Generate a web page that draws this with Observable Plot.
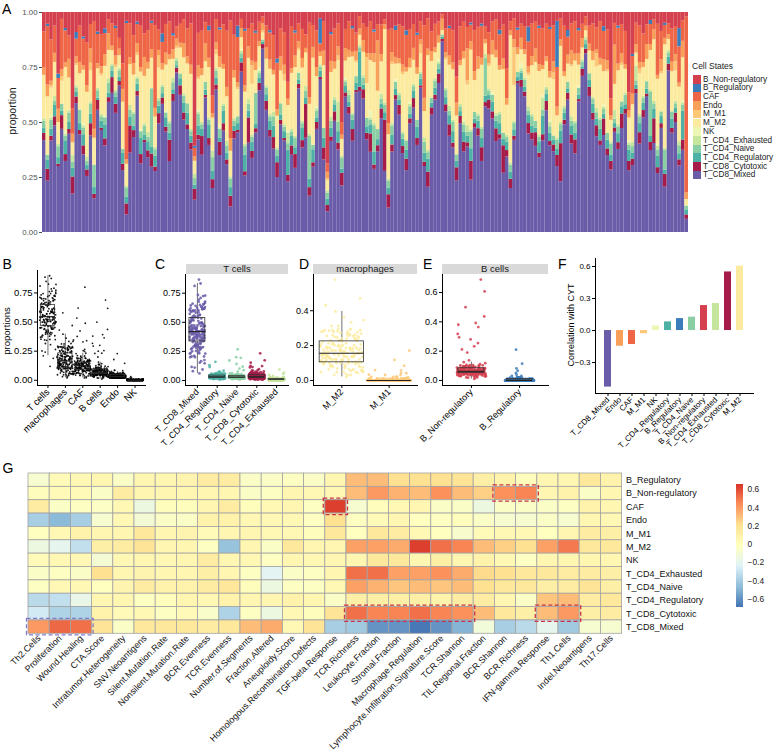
<!DOCTYPE html>
<html><head><meta charset="utf-8">
<script src="https://cdn.jsdelivr.net/npm/d3@7"></script>
<script src="https://cdn.jsdelivr.net/npm/@observablehq/plot@0.6"></script>
<style>
body{margin:0;background:#fff;font-family:Arial,"Liberation Sans",Helvetica,sans-serif;}
#root{position:relative;width:777px;height:755px;overflow:hidden;background:#fff;}
</style></head><body><div id="root"></div>
<script>
// ---------- Panel A: per-sample cell-state amounts (normalized per sample) ----------
const cellStates = ["B_Non-regulatory","B_Regulatory","CAF","Endo","M_M1","M_M2","NK","T_CD4_Exhausted","T_CD4_Naive","T_CD4_Regulatory","T_CD8_Cytotoxic","T_CD8_Mixed"];
const stateColors = ["#D5404F","#3A7DBA","#EE6646","#F8A05A","#FCC878","#FCEB9F","#EEF6B3","#C6E59D","#8ACFA4","#4DB2A5","#A51C4A","#6A5CA8"];

const T_CD8_Mixed = [38,22,40,47,30,45,31,42,18,58,43,35,26,40,15,50,45,37,55,62,
52,68,29,8,35,41,57,30,38,33,30,28,43,60,42,30,56,66,58,47,
44,36,15,40,33,52,38,20,61,35,41,29,12,37,44,70,27,39,32,48,
58,80,55,42,36,26,46,40,24,33,28,64,35,42,17,30,45,73,30,10,
41,47,36,22,64,50,39,61,68,57,43,35,29,40,46,25,11,34,59,48,
33,27,45,52,38,63,30,21,48,56,63,85,51,42,37,24,45,33,40,25,
46,39,31,60,55,48,36,42,28,35,19,44,67,62,58,47,40,38,33,45,
52,41,36,30,24,47,59,39,34,57,66,78,60,49,44,38,41,35,29,46,
37,43,50,27,32,65,39,48,55,41,36,30,44,21,72,42,47,33,40,6];
const T_CD8_Cytotoxic = [3,5,2,4,1,6,3,2,8,3,2,4,3,5,2,4,1,3,2,7,
4,2,3,5,12,3,2,4,1,3,6,2,4,3,2,9,3,2,4,3,
2,3,5,2,8,1,3,4,2,6,3,2,5,3,1,4,2,11,3,2,
3,2,4,3,5,7,2,1,3,4,6,2,3,15,4,2,3,1,5,3,
2,4,3,6,2,3,5,1,2,4,3,8,2,3,4,21,6,3,2,4,
3,5,2,4,3,1,2,7,3,2,4,1,3,5,2,6,3,4,2,9,
2,3,6,2,4,3,5,2,13,3,4,2,1,3,2,5,3,6,2,3,
4,2,3,5,18,2,3,4,6,1,3,2,4,3,5,2,7,3,4,2,
3,6,2,4,3,2,5,3,1,4,10,3,2,6,3,2,4,3,5,2];
const T_CD4_Regulatory = [2,4,3,5,3,2,6,3,4,2,3,5,2,4,3,1,3,6,2,3,
3,2,5,3,4,2,3,7,2,4,3,5,3,2,4,3,2,1,3,4,
5,3,2,4,3,2,6,4,3,2,5,3,4,2,3,2,8,3,4,2,
2,1,3,4,5,3,2,3,12,4,3,2,5,3,4,6,2,3,4,3,
4,3,5,2,3,2,4,3,17,2,3,4,6,3,2,3,3,4,3,2,
3,4,2,3,5,3,4,6,2,3,2,1,3,4,5,3,2,4,3,6,
2,3,4,3,2,4,3,5,3,4,3,3,2,3,2,4,3,2,5,9,
3,4,2,3,6,3,2,4,3,2,1,2,3,4,3,5,2,4,3,2,
4,3,2,5,3,2,4,3,2,3,4,6,3,2,3,4,2,3,14,2];
const T_CD4_Naive = [3,2,4,2,5,3,2,4,3,2,6,3,2,4,10,3,2,3,4,2,
2,3,2,4,3,5,2,3,4,2,27,3,2,3,2,4,3,2,2,3,
4,2,3,5,2,3,2,6,3,4,2,3,4,2,3,2,4,3,2,15,
2,1,3,2,4,3,5,2,3,2,4,3,2,3,20,2,3,2,4,3,
3,2,4,5,2,3,2,3,2,3,4,2,12,5,2,3,3,4,3,2,
2,4,3,2,3,2,5,3,2,3,2,1,3,2,4,3,2,3,2,8,
3,2,4,18,2,3,2,4,3,2,3,3,2,1,3,2,4,3,2,3,
2,3,2,4,3,2,3,2,4,3,2,2,3,2,3,4,2,3,5,2,
3,2,4,2,3,2,3,2,3,22,2,3,2,9,2,3,2,4,3,2];
const T_CD4_Exhausted = [1,0,1,2,1,0,1,1,3,1,0,1,2,1,0,1,1,0,2,1,
1,1,0,1,2,1,1,0,1,2,0,1,1,1,0,1,2,1,0,1,
0,1,2,1,1,0,1,3,1,0,1,2,1,1,0,1,1,2,1,0,
1,0,1,1,2,1,0,1,5,1,1,0,1,2,1,0,1,1,0,1,
2,1,9,1,1,2,1,0,1,1,0,1,1,0,2,1,1,1,0,1,
1,0,1,1,0,1,2,1,0,1,1,0,1,2,1,0,1,1,3,1,
0,1,1,2,1,0,1,1,0,1,1,1,0,1,1,2,1,0,1,6,
1,2,0,1,1,1,0,2,1,0,1,1,0,1,2,1,1,0,1,4,
1,0,1,1,2,7,1,1,0,1,1,2,0,1,1,0,1,2,1,0];
const NK = [0,0,1,0,0,0,1,0,0,0,0,1,0,0,0,0,0,1,0,0,
0,1,0,0,0,0,0,1,0,0,0,0,0,0,1,0,0,0,0,0,
0,0,0,1,0,0,0,0,0,2,0,0,0,0,0,1,0,0,0,0,
1,0,0,0,0,0,0,0,1,0,0,0,0,0,0,0,1,0,0,0,
0,0,0,0,1,0,0,0,0,0,0,3,0,0,0,0,0,0,1,0,
0,0,1,0,0,0,0,0,0,0,1,0,0,0,0,0,0,1,0,0,
0,0,0,0,0,1,0,0,0,0,0,0,0,2,0,0,0,0,0,1,
0,1,0,0,0,0,0,0,0,1,0,0,0,0,0,0,1,0,0,0,
0,0,0,1,0,0,0,0,0,0,0,1,0,0,0,0,0,0,1,0];
const M_M2 = [18,25,12,15,10,10,28,14,6,9,16,24,30,13,12,8,17,21,12,6,
10,5,22,10,18,16,9,25,20,28,14,14,12,7,19,26,8,4,11,15,
17,24,6,13,20,8,22,15,6,26,14,19,12,16,12,5,25,18,22,11,
9,3,12,20,16,15,14,19,12,24,30,10,22,15,14,40,13,4,26,5,
20,12,18,8,8,14,24,6,5,10,16,22,28,19,13,30,20,25,7,12,
24,30,14,10,20,8,12,44,15,11,7,2,12,18,22,18,16,25,19,38,
14,18,27,5,10,16,22,19,30,14,55,17,8,6,10,15,21,26,28,13,
11,20,25,10,36,13,8,22,26,9,5,3,10,16,19,23,14,28,10,12,
24,15,10,10,18,6,18,12,9,20,25,33,16,48,5,17,13,27,21,3];
const M_M1 = [0,0,1,0,0,2,0,0,0,1,0,0,0,3,0,0,1,0,0,0,
1,0,0,0,0,0,1,0,0,0,0,0,5,0,0,0,0,1,0,0,
0,0,0,1,0,0,0,0,2,0,0,0,0,0,1,0,0,0,8,0,
0,1,0,0,0,0,0,3,0,0,0,1,0,0,0,0,0,0,0,1,
0,0,2,0,0,0,0,1,0,0,12,0,0,0,0,0,0,1,0,0,
1,0,0,0,0,4,0,0,0,0,0,0,1,0,0,0,0,0,2,0,
0,0,0,0,1,0,0,0,0,0,0,18,0,0,0,1,0,0,0,0,
0,0,3,0,0,0,0,1,0,0,0,0,0,0,6,0,0,1,0,0,
0,1,0,0,0,0,2,0,0,0,0,0,1,0,0,0,4,0,0,0];
const Endo = [3,5,2,4,6,3,2,8,4,3,5,2,3,6,4,2,3,5,7,2,
4,3,6,2,3,5,4,2,8,3,4,4,2,3,5,2,4,3,2,6,
3,4,2,5,3,7,4,2,3,5,2,4,6,3,2,4,3,5,2,4,
2,3,5,4,2,3,6,4,3,2,5,3,4,2,3,5,4,2,6,3,
5,3,4,2,6,3,2,4,3,5,2,3,4,25,3,2,5,4,3,2,
3,2,4,5,3,2,6,3,4,2,3,5,2,4,3,6,2,3,15,4,
4,5,3,2,4,6,3,2,5,3,2,4,3,5,2,3,4,6,3,2,
2,3,5,4,3,2,4,6,3,5,4,2,3,4,2,3,5,4,2,18,
3,4,2,3,5,4,3,2,6,3,4,2,5,3,2,4,3,2,8,3];
const CAF = [15,25,18,12,14,22,14,10,12,8,16,12,20,10,48,12,14,9,6,10,
12,5,12,62,15,12,8,18,10,14,12,38,8,10,12,14,6,5,8,10,
12,18,4,14,16,8,12,8,10,12,16,24,55,14,20,4,26,8,16,14,
8,3,10,12,15,22,12,14,8,18,10,8,12,6,35,10,16,4,12,4,
12,14,10,6,9,12,10,8,6,7,12,14,10,8,12,2,42,10,12,14,
16,14,12,10,14,8,33,14,8,10,6,2,10,12,14,12,14,12,10,8,
18,12,14,6,10,8,12,14,16,14,4,10,8,6,10,12,14,12,16,18,
14,20,16,18,10,20,8,12,14,10,6,4,8,12,10,16,12,14,8,10,
16,12,14,8,18,10,16,12,8,10,4,26,12,6,5,14,12,18,10,80];
const B_NonRegulatory = [8,5,12,6,28,3,7,10,45,9,6,11,14,5,4,8,10,7,3,5,
6,12,24,4,5,10,4,6,9,8,4,6,7,10,5,4,9,6,5,3,
7,5,62,9,8,4,6,38,3,7,5,8,4,9,6,3,8,7,5,9,
4,2,6,8,10,22,7,9,33,6,8,5,7,10,5,6,8,3,4,73,
9,7,5,52,8,4,6,9,2,5,7,4,8,6,5,3,8,7,6,5,
6,8,7,5,9,4,6,3,8,5,4,1,7,6,8,30,6,4,7,5,
8,6,5,7,9,4,3,8,6,26,4,3,7,5,6,7,5,4,6,8,
5,7,6,4,3,6,8,5,4,7,5,2,6,5,7,4,6,8,40,5,
6,5,8,35,20,5,6,9,5,4,3,6,8,5,5,7,6,8,4,2];
const B_Regulatory = [0,1,0,0,2,0,1,0,0,3,0,1,0,0,0,1,0,2,0,0,
1,0,0,1,0,0,1,0,0,0,1,0,0,4,0,0,1,0,0,0,
0,0,1,0,0,0,2,0,0,1,0,0,0,0,5,0,1,0,0,1,
0,0,0,1,0,2,0,0,0,0,1,0,0,0,0,0,0,12,0,0,
1,0,0,0,0,0,1,0,0,0,0,0,1,0,0,0,0,0,2,0,
0,2,0,0,1,0,0,0,0,0,0,0,0,1,0,0,0,0,0,1,
0,0,1,0,0,0,0,2,0,0,0,0,1,0,0,7,0,0,1,0,
0,1,0,21,0,0,3,0,0,1,0,0,0,0,0,0,2,0,0,0,
1,0,0,0,1,0,0,0,0,2,0,0,0,1,0,0,0,9,0,0];

// ---------- Panel F: correlation with CYT ----------
const corrCells = ["T_CD8_Mixed","Endo","CAF","M_M1","NK","T_CD4_Regulatory","B_Regulatory","T_CD4_Naive","B_Non-regulatory","T_CD4_Exhausted","T_CD8_Cytotoxic","M_M2"];
const corrValues = [-0.53,-0.147,-0.131,-0.03,0.043,0.081,0.112,0.125,0.234,0.253,0.549,0.603];

// ---------- Panel G: heatmap ----------
const sigNames = ["Th2.Cells","Proliferation","Wound.Healing","CTA.Score","Intratumor.Heterogeneity","SNV.Neoantigens","Silent.Mutation.Rate","Nonsilent.Mutation.Rate","BCR.Evenness","TCR.Evenness","Number.of.Segments","Fraction.Altered","Aneuploidy.Score","Homologous.Recombination.Defects","TGF-beta.Response","TCR.Richness","Leukocyte.Fraction","Stromal.Fraction","Macrophage.Regulation","Lymphocyte.Infiltration.Signature.Score","TCR.Shannon","TIL.Regional.Fraction","BCR.Shannon","BCR.Richness","IFN-gamma.Response","Th1.Cells","Indel.Neoantigens","Th17.Cells"];
const heatRows = ["B_Regulatory","B_Non-regulatory","CAF","Endo","M_M1","M_M2","NK","T_CD4_Exhausted","T_CD4_Naive","T_CD4_Regulatory","T_CD8_Cytotoxic","T_CD8_Mixed"];
const hm_B_Regulatory = [-0.08,0.02,0.03,0.05,-0.05,0.05,0.05,0.06,0.12,0.12,-0.05,-0.05,-0.03,-0.05,0.05,0.3,0.3,0.2,0.2,0.2,0.18,0.1,0.08,0.0,0.05,0.05,0.15,0.08];
const hm_B_NonRegulatory = [0.0,0.02,0.02,-0.05,0.12,0.05,0.05,0.05,0.05,0.05,-0.05,-0.03,0.05,0.03,0.03,0.3,0.4,0.33,0.3,0.42,0.3,0.25,0.42,0.45,0.05,0.08,-0.05,0.05];
const hm_CAF = [0.12,-0.05,-0.03,-0.04,0.03,-0.15,0.0,0.0,0.05,0.12,0.0,0.03,0.05,-0.03,0.62,-0.08,0.0,0.03,0.05,-0.05,-0.05,-0.15,-0.05,-0.05,-0.05,-0.03,0.08,0.05];
const hm_Endo = [-0.4,-0.48,-0.4,-0.08,0.03,-0.1,-0.05,-0.05,0.08,0.08,0.03,0.03,0.03,-0.03,0.2,-0.03,0.02,0.05,-0.02,-0.03,0.0,-0.05,-0.08,-0.08,-0.05,-0.08,0.05,0.03];
const hm_M_M1 = [-0.02,0.03,0.08,0.05,0.05,0.15,0.05,0.06,0.02,0.05,0.05,0.03,0.03,0.0,0.15,-0.02,0.15,0.12,0.03,-0.02,-0.07,0.02,0.03,0.03,-0.02,0.05,0.12,0.1];
const hm_M_M2 = [-0.15,-0.2,-0.33,0.1,0.12,0.18,0.05,0.05,-0.03,-0.45,0.05,-0.05,0.15,0.05,0.05,0.38,0.38,0.35,0.62,0.5,0.45,0.3,0.25,0.2,0.38,0.48,0.15,0.15];
const hm_NK = [0.02,0.03,0.03,-0.1,0.03,0.05,0.03,0.05,0.12,0.05,0.03,-0.03,0.05,0.03,0.05,0.05,0.15,0.15,0.05,0.1,0.05,0.08,0.03,-0.03,0.05,0.05,0.05,0.05];
const hm_T_CD4_Exhausted = [-0.05,-0.03,-0.05,0.2,0.05,0.06,0.05,0.05,0.1,0.05,-0.03,-0.22,-0.05,-0.03,0.05,0.5,0.5,0.38,0.38,0.42,0.35,0.22,0.2,0.15,0.15,0.12,0.12,0.1];
const hm_T_CD4_Naive = [-0.03,0.03,0.03,-0.02,0.06,0.12,0.08,0.08,0.12,0.16,0.0,-0.15,-0.03,-0.03,0.03,0.38,0.33,0.28,0.3,0.28,0.3,0.2,0.15,0.15,0.1,0.12,0.18,0.1];
const hm_T_CD4_Regulatory = [-0.35,-0.33,-0.18,0.05,0.05,-0.03,0.0,0.05,0.03,0.08,0.05,0.05,0.08,0.05,-0.05,0.1,0.1,0.1,0.1,0.08,0.12,0.12,0.05,-0.05,0.28,0.3,0.12,0.15];
const hm_T_CD8_Cytotoxic = [-0.28,-0.38,-0.38,0.08,0.02,0.03,-0.03,0.02,-0.06,-0.38,-0.03,-0.15,0.03,0.0,0.18,0.5,0.45,0.45,0.5,0.45,0.42,0.3,0.15,0.1,0.3,0.4,0.1,0.12];
const hm_T_CD8_Mixed = [0.4,0.52,0.5,0.18,-0.05,0.15,0.15,0.15,0.12,0.15,0.3,0.35,0.03,0.18,-0.4,-0.42,-0.6,-0.6,-0.68,-0.6,-0.5,-0.12,-0.4,-0.35,-0.2,-0.42,-0.08,-0.08];
const heatBoxesRed = [
  {row:"CAF", from:"TGF-beta.Response", to:"TGF-beta.Response"},
  {row:"B_Non-regulatory", from:"BCR.Shannon", to:"BCR.Richness"},
  {row:"T_CD8_Cytotoxic", from:"TCR.Richness", to:"TCR.Shannon"},
  {row:"T_CD8_Cytotoxic", from:"IFN-gamma.Response", to:"Th1.Cells"}];
const heatBoxesBlue = [{row:"T_CD8_Mixed", from:"Th2.Cells", to:"Wound.Healing"}];
const heatTicks = [-0.6,-0.4,-0.2,0,0.2,0.4,0.6];

// ================= drawing =================
const root = document.getElementById("root");
const FONT = "Arial, 'Liberation Sans', Helvetica, sans-serif";
function place(el, left, top){ el.style.position="absolute"; el.style.left=left+"px"; el.style.top=top+"px"; el.style.overflow="visible"; root.appendChild(el); return el; }
function txt(s, left, top, size, extra){ const d=document.createElement("div"); d.textContent=s; d.style.cssText=`position:absolute;left:${left}px;top:${top}px;font-size:${size}px;line-height:1;white-space:nowrap;color:#000;`+(extra||""); root.appendChild(d); return d; }
function vtxt(s, cx, cy, size, color){ return txt(s, cx, cy, size, `transform:translate(-50%,-50%) rotate(-90deg);color:${color||"#000"};`); }

const series = {"B_Non-regulatory":B_NonRegulatory,"B_Regulatory":B_Regulatory,"CAF":CAF,"Endo":Endo,"M_M1":M_M1,"M_M2":M_M2,"NK":NK,"T_CD4_Exhausted":T_CD4_Exhausted,"T_CD4_Naive":T_CD4_Naive,"T_CD4_Regulatory":T_CD4_Regulatory,"T_CD8_Cytotoxic":T_CD8_Cytotoxic,"T_CD8_Mixed":T_CD8_Mixed};
const N = T_CD8_Mixed.length;
const totals = d3.range(N).map(i => d3.sum(cellStates, c => series[c][i]));
const prop = {}; cellStates.forEach(c => prop[c] = series[c].map((v,i) => v/totals[i]));

// ---- Panel A ----
const stackOrder = cellStates.slice().reverse();
const longA = [];
stackOrder.forEach(c => series[c].forEach((v,i) => longA.push({sample:i, state:c, value:v})));
const plotA = Plot.plot({
  width:690, height:240, marginLeft:42, marginRight:2, marginTop:12, marginBottom:8,
  style:{fontFamily:FONT, fontSize:"7.8px", color:"#4d4d4d", background:"transparent", overflow:"visible"},
  x:{type:"band", domain:d3.range(N), padding:0, axis:null},
  y:{domain:[0,1], ticks:[0,0.25,0.5,0.75,1], tickFormat:d3.format(".2f"), tickSize:3, tickPadding:2, label:null},
  color:{domain:cellStates, range:stateColors},
  marks:[Plot.barY(longA, Plot.stackY({offset:"normalize", order:stackOrder}, {x:"sample", y:"value", fill:"state", z:"state"}))]
});
place(plotA, 0, 0);
txt("A", 2, 1.5, 14);
vtxt("proportion", 12, 111, 10.5, "#222");
// legend A
txt("Cell States", 692, 62, 8.5, "color:#222;");
cellStates.forEach((c,i) => {
  const sw = document.createElement("div");
  sw.style.cssText = `position:absolute;left:693px;top:${75+i*8.7}px;width:8px;height:8.7px;background:${stateColors[i]};`;
  root.appendChild(sw);
  txt(c, 703, 75+i*8.7+0.6, 8.2, "color:#222;");
});

// ---- box + jitter panels ----
function boxPanel(cfg){
  const n = cfg.cats.length, pts = [], stats = [];
  cfg.values.forEach((vals,k) => {
    vals.forEach((v,i) => pts.push({x: k+1 + cfg.jit*(2*((i*0.6180339887)%1)-1), y:v, key:cfg.keys[k]}));
    const s = vals.slice().sort(d3.ascending);
    const q1=d3.quantile(s,0.25), q2=d3.quantile(s,0.5), q3=d3.quantile(s,0.75), iqr=q3-q1;
    stats.push({k:k+1, q1, q2, q3, lo:d3.min(s.filter(v=>v>=q1-1.5*iqr)), hi:d3.max(s.filter(v=>v<=q3+1.5*iqr))});
  });
  const [mn,mx] = d3.extent(pts, d=>d.y); const pad=(mx-mn)*0.05;
  return Plot.plot({
    width:cfg.width, height:cfg.height, marginLeft:cfg.ml, marginRight:cfg.mr, marginTop:cfg.mt, marginBottom:cfg.mb,
    style:{fontFamily:FONT, fontSize:cfg.fs+"px", color:"#000", background:"transparent", overflow:"visible"},
    x:{domain:[0.4, n+0.6], ticks:d3.range(1,n+1), tickFormat:k=>cfg.cats[k-1], tickRotate:-45, tickSize:3, tickPadding:2, line:true, label:null},
    y:{domain:[mn-pad, mx+pad], ticks:cfg.yTicks, tickFormat:d3.format(cfg.fmt), tickSize:3, tickPadding:2, line:true, label:null},
    color:{domain:cellStates, range:stateColors},
    marks:[
      Plot.ruleX(stats, {x:"k", y1:"q3", y2:"hi", stroke:"#333", strokeWidth:0.7}),
      Plot.ruleX(stats, {x:"k", y1:"lo", y2:"q1", stroke:"#333", strokeWidth:0.7}),
      Plot.dot(pts, {x:"x", y:"y", r:cfg.r, fill: cfg.black ? "#000" : "key", fillOpacity:cfg.op, stroke:"none"}),
      Plot.rect(stats, {x1:d=>d.k-cfg.bw, x2:d=>d.k+cfg.bw, y1:"q1", y2:"q3", fill:"none", stroke:"#333", strokeWidth:0.8}),
      Plot.ruleY(stats, {y:"q2", x1:d=>d.k-cfg.bw, x2:d=>d.k+cfg.bw, stroke:"#222", strokeWidth:1.1})
    ]
  });
}
function sumOf(keys){ return d3.range(N).map(i => d3.sum(keys, c => prop[c][i])); }

// B
const bCats = ["T cells","macrophages","CAF","B cells","Endo","NK"];
place(boxPanel({cats:bCats, keys:bCats, black:true,
  values:[sumOf(["T_CD8_Mixed","T_CD8_Cytotoxic","T_CD4_Regulatory","T_CD4_Naive","T_CD4_Exhausted"]), sumOf(["M_M2","M_M1"]), prop["CAF"], sumOf(["B_Non-regulatory","B_Regulatory"]), prop["Endo"], prop["NK"]],
  width:150, height:215, ml:37, mr:5, mt:15, mb:85, fs:9.5, jit:0.47, bw:0.41, r:0.9, op:0.9,
  yTicks:[0,0.25,0.5,0.75], fmt:".2f"}), 0, 255);
txt("B", 2.5, 256.5, 14);
vtxt("proportions", 7, 331, 9.5);

// C
const cKeys = ["T_CD8_Mixed","T_CD4_Regulatory","T_CD4_Naive","T_CD8_Cytotoxic","T_CD4_Exhausted"];
place(boxPanel({cats:cKeys, keys:cKeys, values:cKeys.map(k=>prop[k]),
  width:155, height:215, ml:45, mr:7, mt:19, mb:85, fs:9, jit:0.4, bw:0.4, r:1.4, op:0.85,
  yTicks:[0,0.25,0.5,0.75], fmt:".2f"}), 140, 255);
txt("C", 155, 256.5, 14);
// D
const dKeys = ["M_M2","M_M1"];
place(boxPanel({cats:dKeys, keys:dKeys, values:dKeys.map(k=>prop[k]),
  width:130, height:215, ml:23, mr:3, mt:19, mb:85, fs:9, jit:0.46, bw:0.47, r:1.4, op:0.85,
  yTicks:[0,0.2,0.4], fmt:".1f"}), 290, 255);
txt("D", 299, 256.5, 14);
// E
const eKeys = ["B_Non-regulatory","B_Regulatory"];
place(boxPanel({cats:eKeys, keys:eKeys, values:eKeys.map(k=>prop[k]),
  width:135, height:215, ml:22, mr:7, mt:19, mb:85, fs:9, jit:0.3, bw:0.27, r:1.4, op:0.85,
  yTicks:[0,0.2,0.4,0.6], fmt:".1f"}), 420, 255);
txt("E", 423, 256.5, 14);
// facet strips
[["T cells",186,102],["macrophages",313,104],["B cells",442,106]].forEach(([s,l,w]) => {
  txt(s, l, 264, 9.5, `width:${w}px;height:10px;line-height:10px;text-align:center;background:#d9d9d9;color:#1a1a1a;`);
});

// F
const corrData = corrCells.map((c,i) => ({cell:c, r:corrValues[i]}));
const plotF = Plot.plot({
  width:222, height:220, marginLeft:40, marginRight:24, marginTop:8, marginBottom:77,
  style:{fontFamily:FONT, fontSize:"8px", color:"#000", background:"transparent", overflow:"visible"},
  x:{domain:corrCells, paddingInner:0.38, paddingOuter:0.29, tickRotate:-45, tickSize:3, tickPadding:2, line:true, label:null},
  y:{domain:[-0.59,0.675], ticks:[-0.3,0,0.3,0.6], tickFormat:d3.format(".1f"), tickSize:3, tickPadding:2, line:true, label:null},
  color:{domain:cellStates, range:stateColors},
  marks:[Plot.barY(corrData, {x:"cell", y:"r", fill:"cell"})]
});
place(plotF, 555, 250);
txt("F", 558, 256.5, 14);
vtxt("Correlation with CYT", 571, 325, 9);

// G heatmap
const heatMatrix = [hm_B_Regulatory, hm_B_NonRegulatory, hm_CAF, hm_Endo, hm_M_M1, hm_M_M2, hm_NK, hm_T_CD4_Exhausted, hm_T_CD4_Naive, hm_T_CD4_Regulatory, hm_T_CD8_Cytotoxic, hm_T_CD8_Mixed];
const heatCells = [];
heatMatrix.forEach((row,r) => row.forEach((v,c) => heatCells.push({r, c, v})));
const heatLo = -0.69, heatHi = 0.655;
const heatColor = {type:"linear", domain:d3.range(7).map(k => heatLo+(heatHi-heatLo)*k/6),
  range:["#4575B4","#91BFDB","#E0F3F8","#FFFFBF","#FEE090","#FC8D59","#D73027"], interpolate:"rgb"};
const boxRect = (data, color) => Plot.rect(data, {
  x1:d=>sigNames.indexOf(d.from), x2:d=>sigNames.indexOf(d.to)+1,
  y1:d=>heatRows.indexOf(d.row), y2:d=>heatRows.indexOf(d.row)+1,
  inset:-1.5, fill:"none", stroke:color, strokeWidth:1.3, strokeDasharray:"4,2.5"});
const plotG = Plot.plot({
  width:777, height:315, marginLeft:28, marginRight:155.4, marginTop:33, marginBottom:121.7,
  style:{fontFamily:FONT, fontSize:"9px", color:"#111", background:"transparent", overflow:"visible"},
  x:{domain:[0,28], ticks:d3.range(28).map(c=>c+0.5), tickFormat:v=>sigNames[Math.floor(v)], tickRotate:-45, tickSize:0, tickPadding:3, label:null},
  y:{domain:[0,12], reverse:true, axis:"right", ticks:d3.range(12).map(r=>r+0.5), tickFormat:v=>heatRows[Math.floor(v)], tickSize:0, tickPadding:4, label:null},
  color:heatColor,
  marks:[
    Plot.rect(heatCells, {x1:"c", x2:d=>d.c+1, y1:"r", y2:d=>d.r+1, fill:"v", stroke:"#a3a3a3", strokeWidth:0.8}),
    boxRect(heatBoxesRed, "#C8324A"),
    boxRect(heatBoxesBlue, "#8379CF")
  ]
});
place(plotG, 0, 440);
txt("G", 2.5, 461, 14);

// heat legend
const legSteps = d3.range(0, 121).map(k => heatLo + (heatHi-heatLo)*k/120);
const plotLeg = Plot.plot({
  width:52, height:140, marginLeft:11, marginRight:34, marginTop:9, marginBottom:8,
  style:{fontFamily:FONT, fontSize:"8.4px", color:"#222", background:"transparent", overflow:"visible"},
  x:{domain:[0,1], axis:null},
  y:{domain:[heatLo, heatHi], axis:"right", ticks:heatTicks, tickFormat:v => v===0 ? "0" : d3.format(".1f")(v), tickSize:0, tickPadding:4, label:null},
  color:heatColor,
  marks:[Plot.rect(legSteps.slice(0,-1), {x1:()=>0, x2:()=>1, y1:d=>d, y2:(d,i)=>legSteps[i+1], fill:d=>d, shapeRendering:"crispEdges"})]
});
place(plotLeg, 725, 475);
</script></body></html>
